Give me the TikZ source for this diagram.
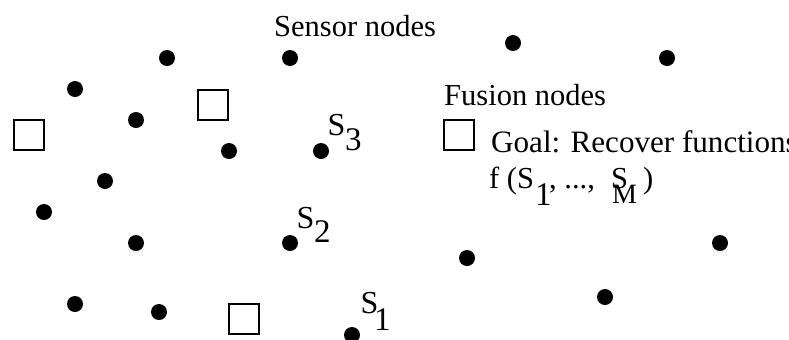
\documentclass[tikz,border=0pt]{standalone}
\usepackage{fontspec}
\setmainfont{Liberation Serif}
\begin{document}
\begin{tikzpicture}[x=1bp,y=-1bp,
  sensor/.style={circle,fill=black,inner sep=0pt,minimum size=16bp},
  fusion/.style={rectangle,draw=black,line width=2.3bp,fill=white,inner sep=0pt,minimum size=30bp},
  txt/.style={anchor=base west,inner sep=0pt,font=\fontsize{30.5bp}{36bp}\selectfont},
  lbl/.style={anchor=base west,inner sep=0pt,font=\fontsize{32bp}{38bp}\selectfont},
  sub/.style={anchor=base west,inner sep=0pt,font=\fontsize{33bp}{38bp}\selectfont},
  subM/.style={anchor=base west,inner sep=0pt,font=\fontsize{28bp}{33bp}\selectfont}]
\useasboundingbox (0,0) rectangle (789,339);

% sensor nodes
\node[sensor] (d1)  at (167,58)  {};
\node[sensor] (d2)  at (290,58)  {};
\node[sensor] (d3)  at (513,43)  {};
\node[sensor] (d4)  at (667,58)  {};
\node[sensor] (d5)  at (75,89)   {};
\node[sensor] (d6)  at (136,120) {};
\node[sensor] (d7)  at (229,151) {};
\node[sensor] (s3)  at (321,151) {};
\node[sensor] (d9)  at (105,181) {};
\node[sensor] (d10) at (44,212)  {};
\node[sensor] (d11) at (136,243) {};
\node[sensor] (s2)  at (290,243) {};
\node[sensor] (d13) at (467,258) {};
\node[sensor] (d14) at (720,243) {};
\node[sensor] (d15) at (605,297) {};
\node[sensor] (d16) at (75,304)  {};
\node[sensor] (d17) at (159,312) {};
\node[sensor] (s1)  at (352,335) {};

% fusion nodes
\node[fusion] (f1) at (29,135)  {};
\node[fusion] (f2) at (213,105) {};
\node[fusion] (f3) at (244,319) {};
\node[fusion] (f4) at (459,135) {};

% sensor labels
\node[lbl] (s3S) at (327.5,135) {S};
\node[sub] (s3n) at (345,150)   {3};
\node[lbl] (s2S) at (296.5,228) {S};
\node[sub] (s2n) at (314,242)   {2};
\node[lbl] (s1S) at (360.5,313) {S};
\node[sub] (s1n) at (374,330)   {1};

% legend texts
\node[txt] (lsens) at (274,36)  {Sensor nodes};
\node[txt] (lfus)  at (444,105) {Fusion nodes};
\node[txt,font=\fontsize{31.1bp}{37bp}\selectfont] (goal) at (491,152) {Goal: Recover functions};
\node[txt] (fa)    at (489,188) {f (S};
\node[sub] (fb)    at (535,205) {1};
\node[txt] (fc)    at (549,188) {, ...,};
\node[txt] (fd)    at (611,188) {S};
\node[subM] (fe)   at (612,203) {M};
\node[txt] (ff)    at (643,188) {)};
\end{tikzpicture}
\end{document}
